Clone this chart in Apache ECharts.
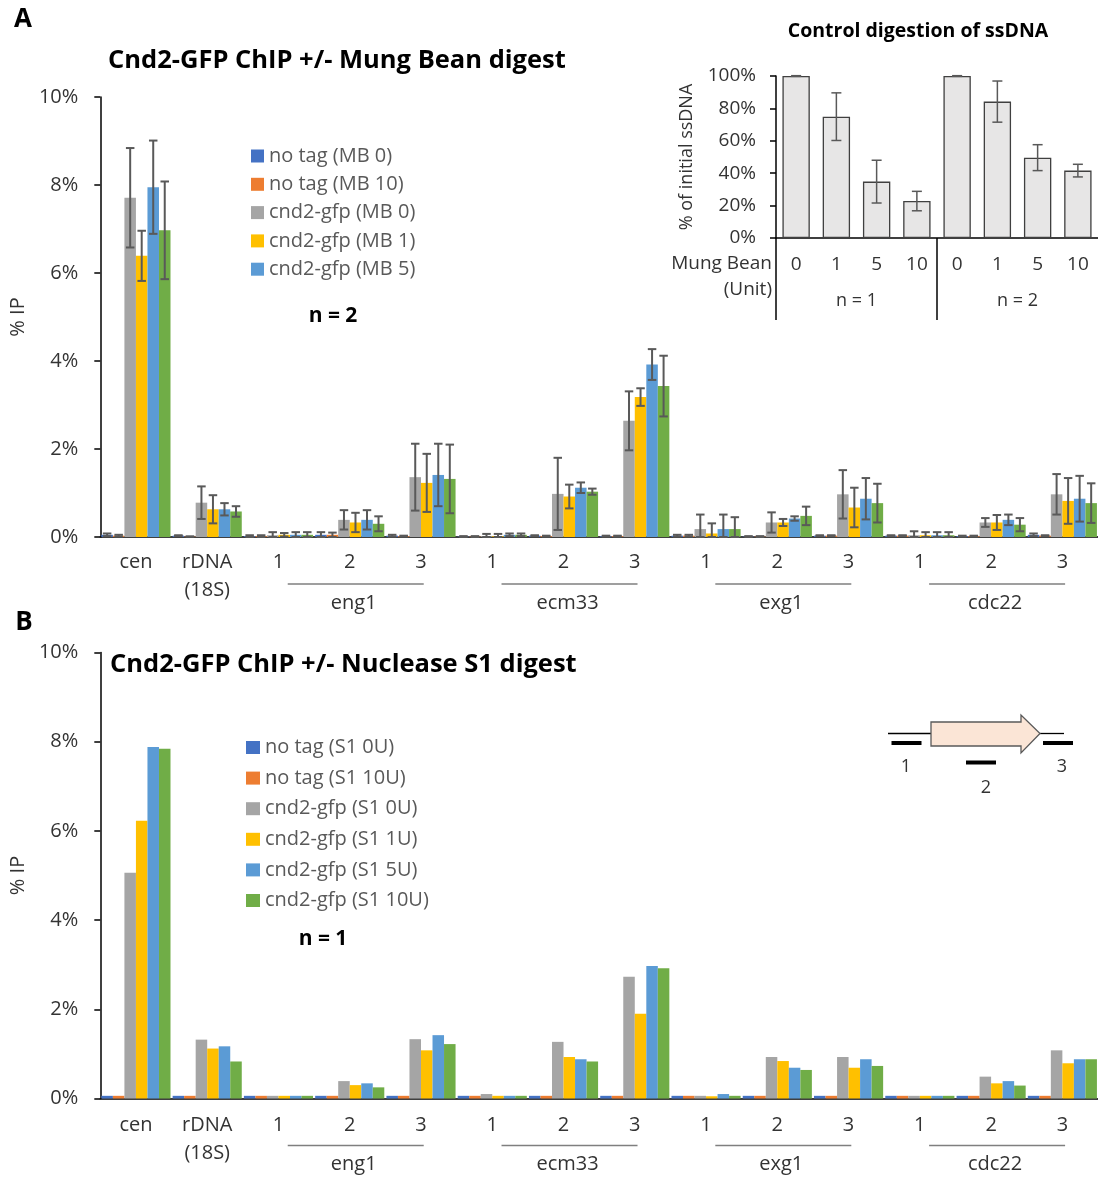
<!DOCTYPE html>
<html lang="en">
<head>
<meta charset="UTF-8">
<title>Cnd2-GFP ChIP +/- digest</title>
<script src="https://cdn.jsdelivr.net/npm/echarts@6/dist/echarts.min.js"></script>
<style>
    html,body{margin:0;padding:0;background:#fff;}
    #main{width:1098px;height:1177px;}
</style>
</head>
<body>
<div id="main"></div>
<script>
// x categories (same for panel A and B)
var categories = ['cen','rDNA (18S)','eng1-1','eng1-2','eng1-3','ecm33-1','ecm33-2','ecm33-3',
                  'exg1-1','exg1-2','exg1-3','cdc22-1','cdc22-2','cdc22-3'];
var tickLabels = ['cen','rDNA\n(18S)','1','2','3','1','2','3','1','2','3','1','2','3'];
var geneGroups = ['eng1','ecm33','exg1','cdc22'];
var colors = ['#4472c4','#ed7d31','#a5a5a5','#ffc000','#5b9bd5','#70ad47'];

// panel A : Mung Bean, n = 2 (mean % IP and error)
var mbNames = ['no tag (MB 0)','no tag (MB 10)','cnd2-gfp (MB 0)','cnd2-gfp (MB 1)','cnd2-gfp (MB 5)','cnd2-gfp (MB 10)'];
var mbNoTag0  = [0.05, 0.03, 0.02, 0.05, 0.03, 0.01, 0.03, 0.02, 0.03, 0.01, 0.03, 0.03, 0.02, 0.05];
var mbNoTag10 = [0.03, 0.01, 0.02, 0.05, 0.02, 0.01, 0.02, 0.02, 0.03, 0.01, 0.03, 0.03, 0.02, 0.03];
var mbGfp0    = [7.71, 0.78, 0.04, 0.39, 1.36, 0.02, 0.98, 2.64, 0.18, 0.33, 0.97, 0.04, 0.33, 0.97];
var mbGfp1    = [6.39, 0.63, 0.05, 0.33, 1.23, 0.02, 0.92, 3.18, 0.08, 0.33, 0.67, 0.04, 0.33, 0.82];
var mbGfp5    = [7.95, 0.63, 0.05, 0.39, 1.41, 0.05, 1.12, 3.92, 0.18, 0.42, 0.87, 0.04, 0.39, 0.87];
var mbGfp10   = [6.97, 0.58, 0.05, 0.30, 1.32, 0.05, 1.03, 3.43, 0.18, 0.48, 0.77, 0.04, 0.28, 0.77];
var mbNoTag0Err  = [0.03, 0.01, 0.02, 0.06, 0.02, 0.01, 0.01, 0.01, 0.02, 0.01, 0.01, 0.01, 0.01, 0.03];
var mbNoTag10Err = [0.02, 0.00, 0.02, 0.05, 0.01, 0.01, 0.01, 0.01, 0.02, 0.01, 0.01, 0.01, 0.01, 0.01];
var mbGfp0Err    = [1.13, 0.37, 0.07, 0.22, 0.76, 0.05, 0.82, 0.67, 0.33, 0.23, 0.55, 0.09, 0.10, 0.46];
var mbGfp1Err    = [0.57, 0.32, 0.04, 0.22, 0.66, 0.05, 0.27, 0.20, 0.23, 0.08, 0.45, 0.07, 0.17, 0.52];
var mbGfp5Err    = [1.06, 0.14, 0.06, 0.22, 0.71, 0.03, 0.12, 0.35, 0.33, 0.05, 0.47, 0.07, 0.12, 0.52];
var mbGfp10Err   = [1.11, 0.12, 0.06, 0.17, 0.78, 0.03, 0.07, 0.69, 0.27, 0.21, 0.44, 0.07, 0.15, 0.45];

// panel B : Nuclease S1, n = 1
var s1Names = ['no tag (S1 0U)','no tag (S1 10U)','cnd2-gfp (S1 0U)','cnd2-gfp (S1 1U)','cnd2-gfp (S1 5U)','cnd2-gfp (S1 10U)'];
var s1NoTag0  = [0.06, 0.06, 0.06, 0.06, 0.06, 0.06, 0.06, 0.06, 0.06, 0.06, 0.06, 0.06, 0.06, 0.06];
var s1NoTag10 = [0.06, 0.06, 0.06, 0.06, 0.06, 0.06, 0.06, 0.06, 0.06, 0.06, 0.06, 0.06, 0.06, 0.06];
var s1Gfp0    = [5.06, 1.32, 0.06, 0.39, 1.33, 0.10, 1.27, 2.73, 0.06, 0.93, 0.93, 0.06, 0.49, 1.08];
var s1Gfp1    = [6.23, 1.12, 0.06, 0.30, 1.08, 0.06, 0.93, 1.90, 0.05, 0.84, 0.69, 0.06, 0.34, 0.79];
var s1Gfp5    = [7.88, 1.17, 0.06, 0.34, 1.42, 0.06, 0.88, 2.97, 0.10, 0.69, 0.88, 0.06, 0.39, 0.88];
var s1Gfp10   = [7.84, 0.83, 0.06, 0.25, 1.22, 0.06, 0.83, 2.92, 0.06, 0.64, 0.73, 0.06, 0.29, 0.88];

// inset : control digestion of ssDNA
var ssCats   = ['n1-0','n1-1','n1-5','n1-10','n2-0','n2-1','n2-5','n2-10'];
var ssLabels = ['0','1','5','10','0','1','5','10'];
var ssMean   = [100, 74.9, 34.8, 22.8, 100, 84.2, 49.6, 41.6];
var ssErr    = [0.2, 14.7, 13.2, 6.0, 0.2, 12.7, 8.0, 3.9];

var FONT = 'Open Sans';
var txt = '#333';
var errColor = '#595959';

var mbMeans = [mbNoTag0, mbNoTag10, mbGfp0, mbGfp1, mbGfp5, mbGfp10];
var mbErrs = [mbNoTag0Err, mbNoTag10Err, mbGfp0Err, mbGfp1Err, mbGfp5Err, mbGfp10Err];
var s1Means = [s1NoTag0, s1NoTag10, s1Gfp0, s1Gfp1, s1Gfp5, s1Gfp10];

var GAP = 0.03;

// error bars drawn over the grouped bars
function errorBars(axis, idx, n, gap, means, errs, cap, lw) {
    return {
        type: 'custom', name: 'err' + axis + '-' + idx,
        xAxisIndex: axis, yAxisIndex: axis, z: 5, silent: true,
        data: means.map(function (m, i) { return [i, m, errs[i]]; }),
        encode: {x: 0, y: 1},
        renderItem: function (params, api) {
            var ci = api.value(0), m = api.value(1), e = api.value(2);
            var band = api.size([1, 0])[0];
            var inner = band * (1 - gap);
            var bw = inner / n;
            var x = api.coord([ci, 0])[0] - inner / 2 + bw * (idx + 0.5);
            var top = api.coord([ci, m + e])[1];
            var bot = api.coord([ci, Math.max(0, m - e)])[1];
            var st = {stroke: errColor, lineWidth: lw};
            return {type: 'group', children: [
                {type: 'line', shape: {x1: x, y1: top, x2: x, y2: bot}, style: st},
                {type: 'line', shape: {x1: x - cap / 2, y1: top, x2: x + cap / 2, y2: top}, style: st},
                {type: 'line', shape: {x1: x - cap / 2, y1: bot, x2: x + cap / 2, y2: bot}, style: st}
            ]};
        }
    };
}

function catAxis(grid, margin) {
    return {
        type: 'category', gridIndex: grid, data: categories,
        axisLine: {lineStyle: {color: '#000', width: 1.5}},
        axisTick: {length: 6, lineStyle: {color: '#000', width: 1.5}},
        axisLabel: {interval: 0, margin: margin, fontSize: 20, fontFamily: FONT, color: txt, lineHeight: 28,
            formatter: function (v, i) { return tickLabels[i]; }}
    };
}
function pctAxis(grid) {
    return {
        type: 'value', gridIndex: grid, min: 0, max: 10, interval: 2,
        axisLine: {show: true, lineStyle: {color: '#000', width: 1.5}},
        axisTick: {show: true, length: 6, lineStyle: {color: '#000', width: 1.5}},
        splitLine: {show: false},
        axisLabel: {formatter: '{value}%', fontSize: 20, fontFamily: FONT, color: txt, margin: 22},
        name: '% IP', nameLocation: 'middle', nameGap: 66, nameRotate: 90,
        nameTextStyle: {fontSize: 20, fontFamily: FONT, color: txt}
    };
}

var series = [];
mbMeans.forEach(function (d, i) {
    series.push({type: 'bar', name: mbNames[i], xAxisIndex: 0, yAxisIndex: 0, data: d,
        itemStyle: {color: colors[i]}, barGap: 0, barCategoryGap: '3%'});
});
mbMeans.forEach(function (d, i) {
    series.push(errorBars(0, i, 6, GAP, d, mbErrs[i], 8.5, 2));
});
s1Means.forEach(function (d, i) {
    series.push({type: 'bar', name: s1Names[i], xAxisIndex: 1, yAxisIndex: 1, data: d,
        itemStyle: {color: colors[i]}, barGap: 0, barCategoryGap: '3%'});
});
series.push({type: 'bar', name: 'ssDNA', xAxisIndex: 2, yAxisIndex: 2, data: ssMean,
    itemStyle: {color: '#e7e6e6', borderColor: '#404040', borderWidth: 1.3}, barCategoryGap: '32%', z: 3});
series.push(errorBars(2, 0, 1, 0.32, ssMean, ssErr, 10, 1.5));

var option = {
    animation: false,
    textStyle: {fontFamily: FONT},
    grid: [
        {left: 99, top: 97, width: 1000, height: 440},
        {left: 99, top: 652.5, width: 1000, height: 446},
        {left: 776, top: 76, width: 328, height: 162}
    ],
    xAxis: [
        catAxis(0, 11),
        catAxis(1, 13),
        {type: 'category', gridIndex: 2, data: ssCats,
            axisLine: {lineStyle: {color: '#000', width: 1.5}}, axisTick: {show: false},
            axisLabel: {interval: 0, margin: 17, fontSize: 19, fontFamily: FONT, color: txt,
                formatter: function (v, i) { return ssLabels[i]; }}}
    ],
    yAxis: [
        pctAxis(0),
        pctAxis(1),
        {type: 'value', gridIndex: 2, min: 0, max: 100, interval: 20,
            axisLine: {show: true, lineStyle: {color: '#000', width: 1.5}},
            axisTick: {show: true, length: 6, lineStyle: {color: '#000', width: 1.5}},
            splitLine: {show: false},
            axisLabel: {formatter: '{value}%', fontSize: 19, fontFamily: FONT, color: txt, margin: 20},
            name: '% of initial ssDNA', nameLocation: 'middle', nameGap: 80, nameRotate: 90,
            nameTextStyle: {fontSize: 18, fontFamily: FONT, color: txt}}
    ],
    legend: [
        {data: mbNames.slice(0, 5), orient: 'vertical', left: 251, top: 146, icon: 'rect', padding: 0,
            itemWidth: 13, itemHeight: 13, itemGap: 8.3, selectedMode: false,
            textStyle: {fontSize: 20, fontFamily: FONT, color: '#595959', lineHeight: 20}},
        {data: s1Names, orient: 'vertical', left: 246, top: 737.5, icon: 'rect', padding: 0,
            itemWidth: 14, itemHeight: 13, itemGap: 10.6, selectedMode: false,
            textStyle: {fontSize: 20, fontFamily: FONT, color: '#595959', lineHeight: 20}}
    ],
    series: series
};

var myChart = echarts.init(document.getElementById('main'));
myChart.setOption(option);

// annotations
function label(text, x, y, size, bold, align, color) {
    return {type: 'text', x: x, y: y, z: 10, silent: true,
        style: {text: text, fontSize: size, fontWeight: bold ? 'bold' : 'normal', fontFamily: FONT,
            fill: color || txt, align: align || 'center', verticalAlign: 'middle',
            textAlign: align || 'center', textVerticalAlign: 'middle'}};
}
function seg(x1, y1, x2, y2, color, w) {
    return {type: 'line', z: 10, silent: true, shape: {x1: x1, y1: y1, x2: x2, y2: y2},
        style: {stroke: color, lineWidth: w}};
}

var g = [];
g.push(label('A', 23, 20, 26, true, 'center', '#000'));
g.push(label('B', 24, 623, 26, true, 'center', '#000'));
g.push(label('Cnd2-GFP ChIP +/- Mung Bean digest', 108, 61, 25.5, true, 'left', '#000'));
g.push(label('Cnd2-GFP ChIP +/- Nuclease S1 digest', 110, 665, 25.5, true, 'left', '#000'));
g.push(label('n = 2', 333, 316, 21, true, 'center', '#000'));
g.push(label('n = 1', 323, 939, 21, true, 'center', '#000'));

// gene group underlines and names
[0, 1].forEach(function (ax) {
    var y0 = myChart.convertToPixel({yAxisIndex: ax}, 0);
    geneGroups.forEach(function (name, k) {
        var cx = myChart.convertToPixel({xAxisIndex: ax}, 3 + 3 * k) + 6;
        g.push(seg(cx - 68, y0 + 47, cx + 68, y0 + 47, '#7f7f7f', 1.5));
        g.push(label(name, cx - 2, y0 + 66, 20, false, 'center', txt));
    });
});

// inset decorations
var insY0 = myChart.convertToPixel({yAxisIndex: 2}, 0);
var insBand = myChart.convertToPixel({xAxisIndex: 2}, 1) - myChart.convertToPixel({xAxisIndex: 2}, 0);
var insL = myChart.convertToPixel({xAxisIndex: 2}, 0) - insBand / 2;
var insM = insL + 4 * insBand;
g.push(seg(insL, insY0, insL, insY0 + 82, '#000', 1.5));
g.push(seg(insM, insY0, insM, insY0 + 82, '#000', 1.5));
g.push(label('Mung Bean', insL - 4, insY0 + 26, 19, false, 'right', txt));
g.push(label('(Unit)', insL - 4, insY0 + 52, 19, false, 'right', txt));
g.push(label('n = 1', (insL + insM) / 2, insY0 + 63, 18, false, 'center', txt));
g.push(label('n = 2', insM + 2 * insBand, insY0 + 63, 18, false, 'center', txt));
g.push(label('Control digestion of ssDNA', 918, 31, 19.5, true, 'center', '#000'));

// gene diagram (panel B)
g.push(seg(888, 733.5, 931, 733.5, '#000', 1.3));
g.push(seg(1040, 733.5, 1064, 733.5, '#000', 1.3));
g.push({type: 'polygon', z: 10, silent: true,
    shape: {points: [[931, 722], [1021, 722], [1021, 715], [1040, 733.5], [1021, 753], [1021, 746], [931, 746]]},
    style: {fill: '#fbe5d6', stroke: '#595959', lineWidth: 1.3}});
g.push({type: 'rect', z: 10, silent: true, shape: {x: 891.5, y: 741, width: 30, height: 4}, style: {fill: '#000'}});
g.push({type: 'rect', z: 10, silent: true, shape: {x: 966, y: 760.5, width: 30, height: 4}, style: {fill: '#000'}});
g.push({type: 'rect', z: 10, silent: true, shape: {x: 1043, y: 741, width: 30, height: 4}, style: {fill: '#000'}});
g.push(label('1', 906, 767, 18, false, 'center', txt));
g.push(label('2', 986, 788, 18, false, 'center', txt));
g.push(label('3', 1062, 767, 18, false, 'center', txt));

myChart.setOption({graphic: g});
</script>
</body>
</html>
